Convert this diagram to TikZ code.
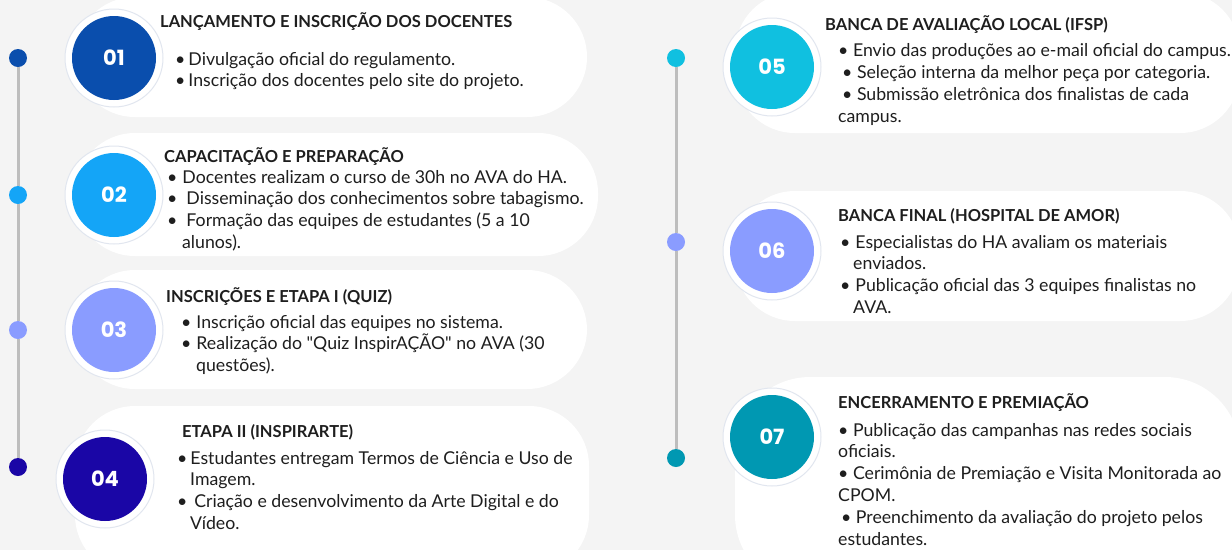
\documentclass[tikz,border=0pt]{standalone}
\usepackage{fontspec}
\setmainfont{Lato}
\newfontfamily\numfont{Poppins}
\usetikzlibrary{positioning}

\definecolor{bgcol}{HTML}{F4F4F4}
\definecolor{linecol}{HTML}{BDBDBD}
\definecolor{halocol}{HTML}{E1E6EF}
\definecolor{txtcol}{HTML}{1E1E1E}
\definecolor{cA}{HTML}{0A4EAD}
\definecolor{cB}{HTML}{14A5F7}
\definecolor{cC}{HTML}{8A9CFF}
\definecolor{cD}{HTML}{1A06A6}
\definecolor{cE}{HTML}{10C0E0}
\definecolor{cF}{HTML}{8A9CFF}
\definecolor{cG}{HTML}{0098B2}

\begin{document}
\begin{tikzpicture}[x=1pt, y=-1pt,
  card/.style = {fill=white, inner sep=0pt, rounded corners=60pt},
  halo/.style = {circle, fill=white, draw=halocol, line width=1pt, minimum size=98pt, inner sep=0pt},
  num/.style = {circle, minimum size=84pt, inner sep=0pt, text=white, font=\numfont\bfseries\fontsize{21}{21}\selectfont},
  dot/.style = {circle, minimum size=18pt, inner sep=0pt},
  head/.style = {anchor=base west, inner sep=0pt, text=txtcol, font=\bfseries\fontsize{16.5}{18}\selectfont},
  body/.style = {anchor=base west, inner sep=0pt, align=left, text=txtcol, font=\fontsize{17.7}{21.8}\selectfont}]

% background
\fill[bgcol] (0,0) rectangle (1232,550);
\useasboundingbox (0,0) rectangle (1232,550);

% cards
\node[card, minimum width=512pt, minimum height=120pt] (k1) at (331,57) {};
\node[card, minimum width=523pt, minimum height=123pt] (k2) at (336.5,194.5) {};
\node[card, minimum width=512pt, minimum height=119pt] (k3) at (331,329.5) {};
\node[card, minimum width=514pt, minimum height=169pt] (k4) at (332,490.5) {};
\node[card, minimum width=505pt, minimum height=141pt] (k5) at (987.5,62.5) {};
\node[card, minimum width=505pt, minimum height=130pt] (k6) at (987.5,256) {};
\node[card, rounded corners=75pt, minimum width=505pt, minimum height=213pt] (k7) at (987.5,483.5) {};

% timelines
\node[dot, fill=cA] (d1) at (18,58) {};
\node[dot, fill=cB] (d2) at (18,195) {};
\node[dot, fill=cC] (d3) at (18,330) {};
\node[dot, fill=cD] (d4) at (18,467) {};
\node[dot, fill=cE] (d5) at (676,58) {};
\node[dot, fill=cF] (d6) at (676,242) {};
\node[dot, fill=cG] (d7) at (676,458) {};
\draw[linecol, line width=3pt] (d1) -- (d2) (d2) -- (d3) (d3) -- (d4);
\draw[linecol, line width=3pt] (d5) -- (d6) (d6) -- (d7);

% numbered circles
\node[halo] (h1) at (114,58) {};
\node[num, fill=cA] (n1) at (h1) {01};
\node[halo] (h2) at (114,195) {};
\node[num, fill=cB] (n2) at (h2) {02};
\node[halo] (h3) at (114,330) {};
\node[num, fill=cC] (n3) at (h3) {03};
\node[halo] (h4) at (105,479) {};
\node[num, fill=cD] (n4) at (h4) {04};
\node[halo] (h5) at (772,67) {};
\node[num, fill=cE] (n5) at (h5) {05};
\node[halo] (h6) at (772,251) {};
\node[num, fill=cF] (n6) at (h6) {06};
\node[halo] (h7) at (772,437) {};
\node[num, fill=cG] (n7) at (h7) {07};

% texts (body nodes sit on the baseline of their last line)
\node[head] (t1) at (160,27) {LANÇAMENTO E INSCRIÇÃO DOS DOCENTES};
\node[body] (b1) at (175,86.8) {\textbullet\hspace{3pt}Divulgação oficial do regulamento.\\
  \textbullet\hspace{3pt}Inscrição dos docentes pelo site do projeto.};

\node[head] (t2) at (164,162) {CAPACITAÇÃO E PREPARAÇÃO};
\node[body] (b2) at (167,248.4) {\textbullet\hspace{5pt}Docentes realizam o curso de 30h no AVA do HA.\\
  \textbullet\hspace{9pt}Disseminação dos conhecimentos sobre tabagismo.\\
  \textbullet\hspace{9pt}Formação das equipes de estudantes (5 a 10\\
  \hspace{15pt}alunos).};

\node[head] (t3) at (166,302) {INSCRIÇÕES E ETAPA I (QUIZ)};
\node[body] (b3) at (181,371.6) {\textbullet\hspace{5pt}Inscrição oficial das equipes no sistema.\\
  \textbullet\hspace{5pt}Realização do \textquotedbl Quiz InspirAÇÃO\textquotedbl\ no AVA (30\\
  \hspace{15pt}questões).};

\node[head] (t4) at (182,437) {ETAPA II (INSPIRARTE)};
\node[body] (b4) at (177,529.4) {\textbullet\hspace{3pt}Estudantes entregam Termos de Ciência e Uso de\\
  \hspace{13pt}Imagem.\\
  \textbullet\hspace{7pt}Criação e desenvolvimento da Arte Digital e do\\
  \hspace{13pt}Vídeo.};

\node[head] (t5) at (825,30) {BANCA DE AVALIAÇÃO LOCAL (IFSP)};
\node[body] (b5) at (838,122) {\textbullet\ Envio das produções ao e-mail oficial do campus.\\
  \hspace{4pt}\textbullet\ Seleção interna da melhor peça por categoria.\\
  \hspace{4pt}\textbullet\ Submissão eletrônica dos finalistas de cada\\
  campus.};

\node[head] (t6) at (838,221) {BANCA FINAL (HOSPITAL DE AMOR)};
\node[body] (b6) at (840,313.4) {\textbullet\hspace{5pt}Especialistas do HA avaliam os materiais\\
  \hspace{13pt}enviados.\\
  \textbullet\hspace{5pt}Publicação oficial das 3 equipes finalistas no\\
  \hspace{13pt}AVA.};

\node[head] (t7) at (838,408) {ENCERRAMENTO E PREMIAÇÃO};
\node[body] (b7) at (838,545) {\textbullet\ Publicação das campanhas nas redes sociais\\
  oficiais.\\
  \textbullet\ Cerimônia de Premiação e Visita Monitorada ao\\
  CPOM.\\
  \hspace{3pt}\textbullet\ Preenchimento da avaliação do projeto pelos\\
  estudantes.};
\end{tikzpicture}
\end{document}
